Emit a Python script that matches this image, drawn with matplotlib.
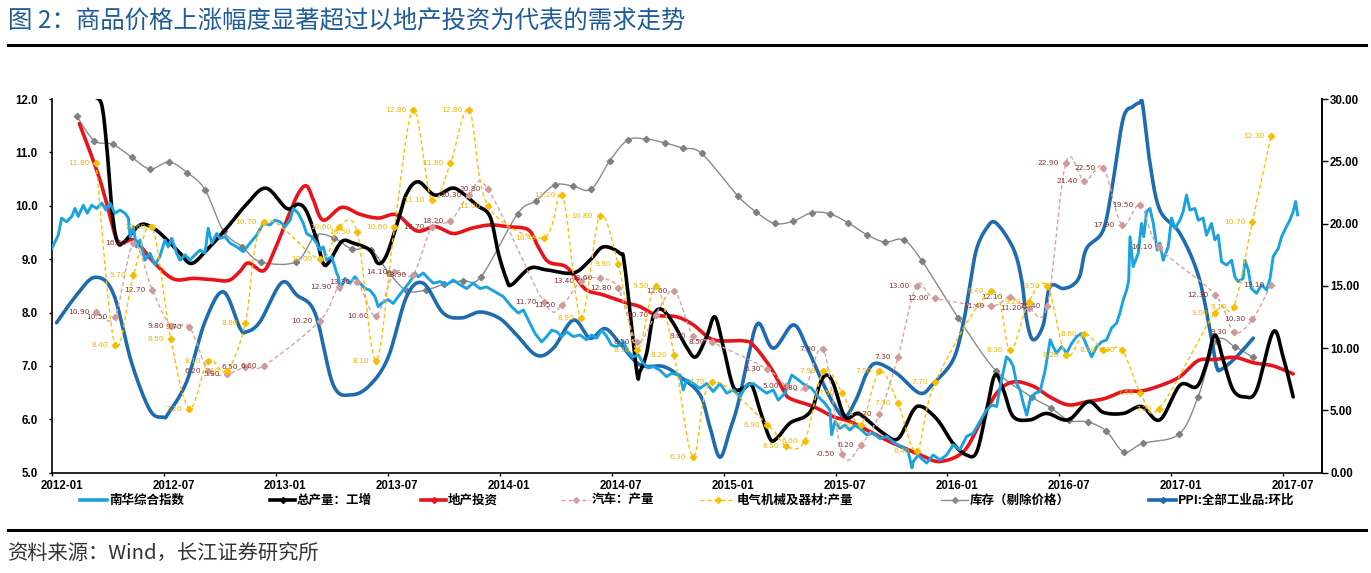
import numpy as np
import matplotlib
matplotlib.use("Agg")
import matplotlib.pyplot as plt
from matplotlib.lines import Line2D

W, H = 1371, 573
CJK = ['Noto Sans CJK SC', 'DejaVu Sans']
NUM = ['Liberation Sans', 'DejaVu Sans']

# x positions are months since 2012-01 (0 = start of 2012-01)
tick_labels = ['2012-01', '2012-07', '2013-01', '2013-07', '2014-01', '2014-07',
               '2015-01', '2015-07', '2016-01', '2016-07', '2017-01', '2017-07']

# 南华综合指数
nanhua_t = [-0.03, 0.32, 0.5, 0.77, 1.04, 1.22, 1.39, 1.66, 1.88, 2.11, 2.38, 2.65, 2.88, 3.09, 3.36, 3.63, 3.9, 4.08,
            4.17, 4.34, 4.52, 4.7, 4.97, 5.24, 5.51, 5.77, 6.04, 6.22, 6.4, 6.67, 6.85, 7.12, 7.38, 7.65, 7.92, 8.19,
            8.36, 8.55, 8.82, 8.99, 9.26, 9.53, 9.89, 10.24, 10.6, 10.96, 11.31, 11.67, 11.94, 12.21, 12.48, 12.75,
            12.92, 13.19, 13.46, 13.64, 13.91, 14.18, 14.35, 14.53, 14.71, 14.98, 15.25,
            15.34, 15.43, 15.69, 15.96, 16.23, 16.5, 16.77, 17.03, 17.3, 17.48, 17.75, 18.02, 18.28, 18.55, 18.82,
            19.18, 19.45, 19.62, 19.89, 20.16, 20.43, 20.79, 21.15, 21.5, 21.86, 22.22, 22.57, 22.93,
            23.29, 23.74, 24.18, 24.63, 24.99, 25.26, 25.61, 25.88, 26.24, 26.51, 26.78, 27.05, 27.31, 27.58, 27.94,
            28.3, 28.65, 28.92, 29.19, 29.46, 29.73, 29.99, 30.26, 30.62, 30.88, 31.15, 31.42, 31.69, 31.96, 32.22,
            32.58, 32.94, 33.21, 33.66, 33.83, 34.02, 34.37, 34.73, 35.09, 35.44, 35.8, 36.16, 36.52, 36.87, 37.23,
            37.59, 37.95, 38.3, 38.66, 38.93, 39.29, 39.65, 40.0, 40.36, 40.72, 41.08, 41.43, 41.7, 41.79, 41.97,
            42.23, 42.5, 42.77, 43.04, 43.3, 43.67, 44.02, 44.38, 44.74, 45.19, 45.55, 45.9, 46.1, 46.17, 46.44,
            46.6, 46.88, 47.24, 47.6, 47.95, 48.31, 48.67, 49.03, 49.38, 49.74, 50.1, 50.37, 50.64, 50.9, 51.17,
            51.35, 51.53, 51.71, 51.89, 52.07, 52.25, 52.43, 52.7, 52.97, 53.24, 53.51, 53.67, 53.85, 54.12, 54.39,
            54.66, 54.93, 55.19, 55.46, 55.73, 56.0, 56.27, 56.54, 56.8, 57.07, 57.25, 57.43, 57.61, 57.72, 57.79,
            57.96, 58.23, 58.41, 58.53, 58.68, 58.86, 59.04, 59.25, 59.39, 59.57, 59.84, 60.02, 60.2, 60.47, 60.64,
            60.82, 61.0, 61.27, 61.45, 61.71, 61.89, 62.16, 62.34, 62.52, 62.7, 62.97, 63.24, 63.41, 63.59, 63.86,
            63.95, 64.13, 64.3, 64.58, 64.85, 65.12, 65.3, 65.47, 65.74, 65.92, 66.18, 66.36, 66.54, 66.67, 66.78]
nanhua_v = [9.2, 9.45, 9.77, 9.7, 9.8, 9.95, 9.8, 10.01, 9.86, 10.01, 9.95, 10.05, 9.92, 10.05, 9.86, 9.92, 9.86, 9.77,
            9.42, 9.61, 9.23, 9.36, 8.98, 9.11, 8.89, 9.05, 9.36, 9.23, 9.39, 9.11, 8.98, 9.08, 8.98, 9.08, 9.17, 9.11,
            9.58, 9.3, 9.48, 9.39, 9.42, 9.3, 9.23, 9.14, 9.3, 9.45, 9.67, 9.64, 9.73, 9.7, 9.61, 9.73,
            9.95, 9.86, 9.67, 9.48, 9.42, 9.3, 9.17, 9.23, 8.98, 9.05, 8.74,
            8.67, 8.42, 8.64, 8.55, 8.67, 8.55, 8.45, 8.42, 8.3, 8.11, 8.2, 8.24, 8.17, 8.3, 8.42,
            8.58, 8.74, 8.67, 8.74, 8.64, 8.55, 8.58, 8.52, 8.61, 8.52, 8.45, 8.55, 8.45,
            8.48, 8.39, 8.3, 8.11, 7.99, 8.05, 7.8, 7.61, 7.45, 7.55, 7.67, 7.64, 7.55, 7.64, 7.55,
            7.58, 7.49, 7.58, 7.52, 7.67, 7.55, 7.39, 7.36, 7.45, 7.27, 7.17, 7.21, 7.05, 6.96, 6.99,
            6.92, 6.8, 6.86, 6.83, 6.55, 6.74, 6.67, 6.58, 6.67, 6.52, 6.67, 6.49, 6.55, 6.42, 6.64,
            6.67, 6.58, 6.49, 6.55, 6.36, 6.49, 6.83, 6.74, 6.64, 6.58, 6.42, 6.3, 6.17, 5.71, 5.96,
            5.83, 5.89, 5.8, 5.89, 5.83, 5.71, 5.74, 5.64, 5.68, 5.55, 5.49, 5.39, 5.09, 5.21, 5.33,
            5.27, 5.18, 5.33, 5.24, 5.33, 5.52, 5.43, 5.68, 5.74, 5.96, 6.17, 6.27, 6.24, 6.74, 7.17,
            7.11, 6.99, 6.67, 6.55, 6.3, 6.08, 6.36, 6.49, 6.52, 6.92, 7.49, 7.36, 7.24, 7.36, 7.24,
            7.42, 7.55, 7.61, 7.39, 7.17, 7.36, 7.45, 7.49, 7.71, 7.8, 7.99, 8.24, 8.42, 8.6, 9.42,
            8.86, 9.11, 9.67, 9.42, 9.89, 9.95, 9.67, 9.17, 9.3, 8.98, 9.23, 9.77, 9.58, 9.73, 9.89,
            10.2, 9.92, 9.95, 9.73, 9.77, 9.45, 9.67, 9.36, 9.45, 8.95, 8.89, 8.98, 8.67, 8.58, 8.64,
            8.98, 8.8, 8.45, 8.36, 8.52, 8.42, 8.64, 9.05, 9.2, 9.42, 9.61, 9.73, 9.89, 10.08, 9.83]

# 总产量：工增
ip_t = [2.0, 2.26, 2.65, 2.92, 3.18, 3.45, 3.81, 4.7, 5.42, 6.13, 6.85, 7.47, 8.28, 9.35, 10.42, 11.46, 12.57, 13.19,
        13.64, 14.18, 14.53, 14.85, 15.52, 16.14, 17.03, 17.48, 17.93, 18.55, 19.0, 19.62, 20.52, 21.42, 21.95, 22.76,
        23.47, 23.92, 24.37, 24.63, 25.61, 26.5, 27.94, 28.83, 29.55, 30.44, 30.7, 31.33, 31.5, 31.87, 32.22, 32.68,
        33.3, 34.0, 34.51, 35.09, 35.53, 35.98, 36.52, 37.05, 37.5, 37.95, 38.48, 38.84, 39.56, 40.36, 40.8, 41.16,
        41.52, 41.88, 42.5, 43.13, 43.49, 44.56, 45.36, 46.17, 46.6, 47.1, 47.6, 48.3, 49.03, 49.57, 50.1, 50.55,
        51.0, 51.53, 52.43, 53.32, 54.48, 55.55, 56.36, 57.43, 58.41, 59.39, 60.47, 61.36, 61.9, 62.34, 62.79,
        63.32, 63.95, 64.58, 65.47, 66.0, 66.54]
ip_v = [12.4, 12.07, 11.89, 11.11, 9.98, 9.37, 9.31, 9.64, 9.58, 9.37, 9.11, 8.92, 9.17, 9.58, 10.03, 10.33, 9.95, 10.03,
        9.89, 9.36, 8.92, 8.95, 9.33, 9.3, 9.17, 8.92, 9.08, 9.73, 10.23, 10.45, 10.2, 10.33, 10.25, 10.01,
        9.8, 9.11, 8.61, 8.52, 8.83, 8.8, 8.74, 8.98, 9.23, 9.11, 8.86, 6.92, 6.89, 7.24, 7.92, 8.06,
        7.8, 7.36, 7.17, 7.55, 7.92, 7.36, 6.61, 6.58, 6.64, 6.17, 5.64, 5.64, 5.93, 6.05, 6.24, 6.67,
        6.83, 6.67, 6.05, 6.11, 6.05, 5.74, 5.64, 6.17, 6.24, 6.12, 5.93, 5.55, 5.33, 5.39, 6.17, 6.83,
        6.55, 6.05, 5.99, 6.11, 5.99, 6.33, 6.13, 6.11, 6.24, 5.99, 6.64, 6.61, 7.05, 7.58, 7.11,
        6.55, 6.42, 6.55, 7.64, 7.17, 6.42]

# 地产投资
re_t = [1.45, 2.56, 3.45, 3.81, 4.43, 5.42, 6.49, 7.56, 8.46, 9.44, 10.06, 10.51, 11.31, 11.85, 12.57, 13.19, 13.64,
        14.0, 14.53, 15.52, 16.5, 17.48, 18.47, 19.54, 20.52, 21.5, 22.49, 23.47, 24.37, 25.52, 26.06, 26.6, 27.49,
        28.03, 28.66, 29.55, 30.62, 31.51, 32.41, 33.48, 34.37, 35.44, 37.05, 37.59, 38.48, 39.2, 39.56, 40.8, 41.88,
        42.77, 43.84, 44.91, 46.17, 46.7, 47.6, 48.85, 49.75, 50.64, 51.53, 52.6, 53.49, 54.48, 55.46, 56.44, 57.43,
        58.41, 59.48, 60.47, 61.45, 62.34, 63.41, 64.4, 65.47, 66.54]
re_v = [11.54, 10.48, 9.36, 9.31, 9.35, 8.95, 8.63, 8.64, 8.62, 8.6, 8.77, 8.93, 8.78, 9.11, 9.73, 10.23, 10.37,
        10.11, 9.73, 9.97, 9.84, 9.77, 9.83, 9.53, 9.61, 9.48, 9.58, 9.64, 9.61, 9.55, 9.23, 8.95, 8.87,
        8.67, 8.42, 8.33, 8.2, 8.11, 7.95, 7.92, 7.77, 7.49, 7.47, 7.39, 6.99, 6.55, 6.39, 6.24, 6.05,
        5.96, 5.77, 5.58, 5.39, 5.31, 5.21, 5.39, 5.93, 6.49, 6.7, 6.62, 6.42, 6.27, 6.33, 6.39, 6.52,
        6.53, 6.64, 6.8, 7.1, 7.12, 7.16, 7.06, 7.0, 6.85]

# PPI:全部工业品:环比
ppi_t = [0.23, 1.31, 2.29, 3.27, 4.26, 5.24, 5.95, 6.22, 7.21, 8.19, 9.17, 10.06, 10.42, 11.14, 12.3, 13.1, 14.09,
         15.07, 16.05, 17.03, 18.02, 19.0, 19.89, 20.96, 21.95, 22.93, 23.99, 24.9, 25.97, 26.86, 27.94, 28.83, 29.64,
         30.44, 31.51, 32.76, 33.66, 34.73, 35.26, 35.8, 36.34, 36.78, 37.32, 37.86, 38.66, 39.73, 40.45, 41.16, 41.88,
         42.5, 43.13, 43.67, 44.2, 45.28, 46.52, 47.24, 48.3, 48.85, 49.25, 49.57, 50.1, 50.6, 51.53, 51.98, 52.25,
         52.6, 53.14, 53.49, 54.2, 54.74, 55.11, 55.46, 56.36, 56.89, 57.43, 57.96, 58.32, 58.47, 58.86, 59.39, 60.47,
         61.45, 62.08, 62.43, 62.7, 63.5, 64.4]
ppi_v = [7.81, 8.33, 8.66, 8.36, 7.05, 6.17, 6.04, 6.11, 6.71, 7.83, 8.39, 7.71, 7.64, 7.83, 8.56, 8.33, 7.99,
         6.64, 6.46, 6.64, 7.17, 8.3, 8.55, 7.99, 7.9, 8.01, 7.89, 7.58, 7.2, 7.33, 7.86, 7.52, 7.7,
         7.42, 7.02, 6.99, 6.8, 6.46, 5.86, 5.29, 5.8, 6.3, 7.17, 7.8, 7.33, 7.77, 7.36, 6.8, 6.3,
         6.05, 6.39, 6.86, 7.05, 6.86, 6.49, 6.67, 7.11, 7.8, 8.61, 9.2, 9.58, 9.68, 9.2, 8.61, 7.86,
         7.49, 7.77, 8.48, 8.45, 8.52, 8.7, 9.2, 9.55, 10.48, 11.64, 11.86, 11.93, 11.89, 10.8, 9.92, 9.48,
         8.7, 7.67, 6.99, 6.94, 7.17, 7.52]

# 库存（剔除价格）
inv_t = [1.31, 2.25, 3.24, 4.26, 5.24, 6.26, 7.24, 8.19, 9.19, 10.19, 11.17,
         13.08, 14.1, 15.09, 16.07, 17.07, 18.04, 19.0, 20.02, 21.0, 22.0, 22.99,
         24.95, 25.92, 26.94, 27.92, 28.9, 29.89, 30.85, 31.82, 32.84, 33.8, 34.82,
         36.75, 37.75, 38.73, 39.72, 40.72, 41.68, 42.68, 43.67, 44.65, 45.65, 46.63,
         48.58, 50.6, 52.51, 53.53, 54.51, 55.52, 56.52, 57.46, 58.48,
         60.41, 61.43, 62.43, 63.41, 64.38]
inv_v = [11.68, 11.22, 11.15, 10.91, 10.69, 10.82, 10.62, 10.30, 9.52, 9.23, 8.95,
         8.95, 9.44, 9.40, 9.19, 9.18, 8.75, 8.41, 8.42, 8.53, 8.60, 8.67,
         9.85, 10.09, 10.39, 10.37, 10.31, 10.84, 11.23, 11.25, 11.18, 11.08, 10.98,
         10.19, 9.88, 9.67, 9.71, 9.87, 9.85, 9.68, 9.46, 9.32, 9.36, 8.97,
         7.90, 6.91, 6.42, 6.22, 5.98, 5.95, 5.78, 5.39, 5.55,
         5.72, 6.41, 7.46, 7.36, 7.16]

# 汽车：产量 and 电气机械及器材:产量, March-December of each year, 2012-03 .. 2017-06
prod_months = [f'{y}-{m:02d}' for y in range(2012, 2018) for m in range(3, 13)][:54]
car_v = [10.9, 10.5, 16.4, 12.7, 9.8, 9.7, 6.2, 5.9, 6.5, 6.6,
         10.2, 12.9, 13.3, 10.6, 14.1, 13.9, 17.7, 18.2, 20.3, 20.8,
         11.7, 11.5, 13.4, 13.6, 12.8, 8.5, 10.7, 12.6, 9.0, 8.5,
         6.3, 5.0, 4.8, 7.9, -0.5, 0.2, 2.7, 7.3, 13.0, 12.0,
         11.4, 12.1, 11.2, 11.4, 22.9, 21.4, 22.5, 17.9, 19.5, 16.1,
         12.3, 9.3, 10.3, 13.1]
elec_v = [11.8, 8.4, 9.7, 10.6, 8.5, 7.2, 8.1, 7.9, 8.8, 10.7,
          10.0, 10.6, 10.5, 8.1, 10.6, 12.8, 11.1, 11.8, 12.8, 11.0,
          10.4, 11.2, 8.9, 10.8, 9.9, 8.3, 9.5, 8.2, 6.3, 7.7,
          6.9, 6.5, 6.6, 7.9, 7.5, 6.9, 7.9, 7.3, 6.4, 7.7,
          9.4, 8.3, 9.2, 9.5, 8.2, 8.6, 8.3, 8.3, 7.5, 7.2,
          9.0, 9.1, 10.7, 12.3]


def month_pos(s, offset=0.35):
    y, m = s.split('-')
    return (int(y) - 2012) * 12 + int(m) - 1 + offset


def smooth(x, y, n=10):
    # Excel-style smoothed line: cubic bezier through the points
    p = np.column_stack([np.asarray(x, float), np.asarray(y, float)])
    out = [p[0]]
    s = np.linspace(0, 1, n + 1)[1:, None]
    for i in range(len(p) - 1):
        p0 = p[i - 1] if i > 0 else p[i]
        p3 = p[i + 2] if i + 2 < len(p) else p[i + 1]
        c1 = p[i] + (p[i + 1] - p0) / 6
        c2 = p[i + 1] - (p3 - p[i]) / 6
        seg = (1 - s) ** 3 * p[i] + 3 * (1 - s) ** 2 * s * c1 + 3 * (1 - s) * s ** 2 * c2 + s ** 3 * p[i + 1]
        out.extend(seg)
    out = np.array(out)
    return out[:, 0], out[:, 1]


prod_t = [month_pos(m) for m in prod_months]

fig = plt.figure(figsize=(W / 100, H / 100), dpi=100)
ax = fig.add_axes([52.3 / W, 1 - 472.7 / H, (1321.7 - 52.3) / W, (472.7 - 99) / H])
ax.set_xlim(0, 68.07)
ax.set_ylim(5, 12)

c_nanhua = '#1AA3E0'
c_ip = '#000000'
c_re = '#E8141B'
c_ppi = '#1F6BB0'
c_inv = '#8A8A8A'
c_car = '#D8A2A2'
c_car_txt = '#8C2F2F'
c_elec = '#FFC000'
c_elec_txt = '#F2B600'

xs, ys = smooth(inv_t, inv_v)
ax.plot(xs, ys, color=c_inv, lw=1.0, zorder=2)
ax.plot(inv_t, inv_v, ls='none', marker='D', ms=3.2, color='#808080', zorder=2)

xs, ys = smooth(ppi_t, ppi_v)
ax.plot(xs, ys, color=c_ppi, lw=2.6, zorder=3, solid_capstyle='round')

xs, ys = smooth(re_t, re_v)
ax.plot(xs, ys, color=c_re, lw=2.6, zorder=4, solid_capstyle='round')

xs, ys = smooth(ip_t, ip_v)
ax.plot(xs, ys, color=c_ip, lw=2.6, zorder=5, solid_capstyle='round')

ax.plot(nanhua_t, nanhua_v, color=c_nanhua, lw=2.1, zorder=6)

# axes cosmetics
ax.spines['top'].set_visible(False)
for sp in ['left', 'bottom', 'right']:
    ax.spines[sp].set_linewidth(1.2)
ax.set_xticks(range(0, 67, 6))
ax.set_xticklabels([])
ax.set_xticks([i + 0.5 for i in range(0, 67, 6)], minor=True)
ax.set_xticklabels(tick_labels, minor=True, fontsize=8.3, fontweight='bold', family=NUM)
ax.tick_params(axis='x', which='major', direction='out', length=2.5, width=1)
ax.tick_params(axis='x', which='minor', length=0, pad=5)
ax.set_yticks(np.arange(5, 12.01, 1))
ax.set_yticklabels([f'{v:.1f}' for v in np.arange(5, 12.01, 1)], fontsize=8.3, fontweight='bold', family=NUM)
ax.tick_params(axis='y', direction='out', length=2.5, width=1, pad=8)

axr = ax.twinx()
axr.set_ylim(0, 30)
axr.set_yticks(np.arange(0, 30.01, 5))
axr.set_yticklabels([f'{v:.2f}' for v in np.arange(0, 30.01, 5)], fontsize=8.3, fontweight='bold', family=NUM)
axr.tick_params(axis='y', direction='out', length=4, width=1, pad=2)
for sp in ['top', 'left', 'bottom']:
    axr.spines[sp].set_visible(False)
axr.spines['right'].set_linewidth(1.2)

# hidden scales used by the two production series
ax_car = ax.twinx()
ax_car.set_ylim(-2, 28)
ax_car.axis('off')
ax_elec = ax.twinx()
ax_elec.set_ylim(6, 13)
ax_elec.axis('off')

xs, ys = smooth(prod_t, car_v)
ax_car.plot(xs, ys, color=c_car, lw=1.0, ls=(0, (3, 2)))
ax_car.plot(prod_t, car_v, ls='none', marker='D', ms=3.2, color='#CF9A9A')
for t, v in zip(prod_t, car_v):
    ax_car.annotate(f'{v:.2f}', (t, v), xytext=(-5, 0), textcoords='offset points',
                    ha='right', va='center', fontsize=5.4, color=c_car_txt, family='DejaVu Sans')

xs, ys = smooth(prod_t, elec_v)
ax_elec.plot(xs, ys, color=c_elec, lw=1.0, ls=(0, (3, 2)))
ax_elec.plot(prod_t, elec_v, ls='none', marker='D', ms=3.2, color='#F5BE00')
for t, v in zip(prod_t, elec_v):
    ax_elec.annotate(f'{v:.2f}', (t, v), xytext=(-5, 0), textcoords='offset points',
                     ha='right', va='center', fontsize=5.4, color=c_elec_txt, family='DejaVu Sans')

# legend, drawn by hand to follow the original spacing
legend_items = [
    ('南华综合指数', 80, 107, c_nanhua, 2.6, '-', None),
    ('总产量：工增', 270, 295, c_ip, 2.6, '-', 'D'),
    ('地产投资', 421, 446, c_re, 2.6, '-', 'D'),
    ('汽车：产量', 561, 590, c_car, 1.0, (0, (3, 2)), 'D'),
    ('电气机械及器材:产量', 700, 735, c_elec, 1.0, (0, (3, 2)), 'D'),
    ('库存（剔除价格）', 941, 968, c_inv, 1.0, '-', 'D'),
    ('PPI:全部工业品:环比', 1149, 1176, c_ppi, 2.6, '-', 'D'),
]
ly = 1 - 500 / H
for label, x0, x1, col, lw, ls, mk in legend_items:
    fig.add_artist(Line2D([x0 / W, x1 / W], [ly, ly], transform=fig.transFigure, color=col, lw=lw, ls=ls))
    if mk:
        fig.add_artist(Line2D([(x0 + x1) / 2 / W], [ly], transform=fig.transFigure, color=col,
                              marker=mk, ms=3, ls='none'))
    fig.text((x1 + 2) / W, ly, label, fontsize=9, fontweight='bold', family=CJK, va='center', ha='left')

fig.text(8 / W, 1 - 20 / H, '图 2：商品价格上涨幅度显著超过以地产投资为代表的需求走势',
         fontsize=17.6, color='#1F5C99', family=CJK, va='center', ha='left')
fig.add_artist(Line2D([8 / W, 1366 / W], [1 - 45 / H, 1 - 45 / H], transform=fig.transFigure, color='black', lw=2.2))
fig.add_artist(Line2D([8 / W, 1366 / W], [1 - 530 / H, 1 - 530 / H], transform=fig.transFigure, color='black', lw=2.2))
fig.text(8 / W, 1 - 553 / H, '资料来源：Wind，长江证券研究所', fontsize=14.6, color='#333333',
         family=CJK, va='center', ha='left')

fig.savefig('out.png', dpi=100)
